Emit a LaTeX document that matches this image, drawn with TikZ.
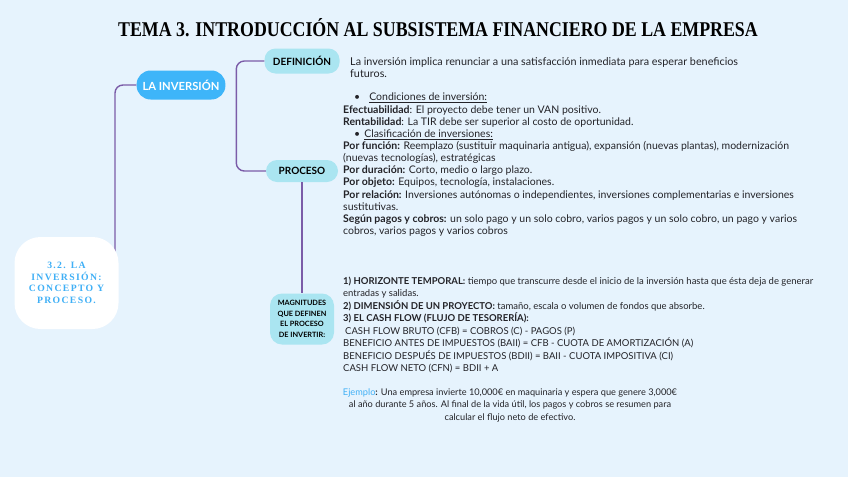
\documentclass[tikz,border=0pt]{standalone}
\usepackage{fontspec}
\setmainfont{Lato}
\newfontfamily\headserif{Liberation Serif}
\newfontfamily\spacedserif[LetterSpace=14]{Liberation Serif}
\usetikzlibrary{positioning,calc}
\definecolor{bgblue}{RGB}{230,243,253}
\definecolor{pillblue}{RGB}{62,181,249}
\definecolor{pillcyan}{RGB}{170,229,241}
\definecolor{linkpurple}{RGB}{123,92,168}
\definecolor{accentblue}{RGB}{64,176,246}
\definecolor{bodytext}{RGB}{35,35,40}

\begin{document}
\begin{tikzpicture}[x=1pt,y=-1pt,
  pill/.style={rounded corners=11pt,inner xsep=6pt,inner ysep=0pt,font=\fontsize{10}{12}\selectfont\bfseries},
  core/.style={fill=white,rounded corners=26pt,minimum width=104pt,minimum height=92pt,align=center,
    text=accentblue,font=\spacedserif\bfseries\fontsize{9.7}{11.5}\selectfont},
  magbox/.style={fill=pillcyan,rounded corners=12pt,minimum width=64pt,minimum height=51pt,inner sep=2pt,
    align=center,font=\fontsize{7.3}{10.5}\selectfont\bfseries},
  body/.style={inner sep=0pt,align=left,text=bodytext,font=\fontsize{10.5}{12.15}\selectfont},
  link/.style={draw=linkpurple,line width=1.4pt,rounded corners=8pt}]
\fill[bgblue] (0,0) rectangle (848,477);
\useasboundingbox (0,0) rectangle (848,477);

% title
\node (title) at (438,28) {\scalebox{0.85}[1]{\headserif\bfseries\fontsize{21}{21}\selectfont TEMA 3. INTRODUCCIÓN AL SUBSISTEMA FINANCIERO DE LA EMPRESA}};

% tree
\coordinate (corejoin) at (115,258);
\node[pill,fill=pillblue,text=white,minimum width=84pt,minimum height=29pt,rounded corners=14pt,
  font=\fontsize{11.2}{13}\selectfont\bfseries] (inv) at (181,85) {LA INVERSIÓN};
\node[pill,fill=pillcyan,minimum width=75pt,minimum height=25pt] (def) at (302,61) {DEFINICIÓN};
\node[pill,fill=pillcyan,minimum width=72pt,minimum height=22pt] (proc) at (302,171) {PROCESO};
\node[magbox] (mag) at (302,319) {MAGNITUDES\\QUE DEFINEN\\EL PROCESO\\DE INVERTIR:};
\draw[link] (corejoin) |- (inv.west);
\draw[link] (def.west) -- ++(-28,0) |- (proc.west);
\draw[link] (proc.south) -- (mag.north);
\node[core] (core) at (66.5,283) {3.2. LA\\INVERSIÓN:\\CONCEPTO Y\\PROCESO.};

% texts (base = last line)
\node[body,anchor=base west,font=\fontsize{10.8}{12}\selectfont] (deftext) at (350,77) {La inversión implica renunciar a una satisfacción inmediata para esperar beneficios\\futuros.};
\node[body,anchor=base west] (proctext) at (343,234.5) {%
\hspace{11pt}\textbullet\hspace{9pt}\underline{Condiciones de inversión:}\\
\textbf{Efectuabilidad}: El proyecto debe tener un VAN positivo.\\
\textbf{Rentabilidad}: La TIR debe ser superior al costo de oportunidad.\\
\hspace{11pt}\textbullet\hspace{4pt}\underline{Clasificación de inversiones:}\\
\textbf{Por función:} Reemplazo (sustituir maquinaria antigua), expansión (nuevas plantas), modernización\\
(nuevas tecnologías), estratégicas\\
\textbf{Por duración:} Corto, medio o largo plazo.\\
\textbf{Por objeto:} Equipos, tecnología, instalaciones.\\
\textbf{Por relación:} Inversiones autónomas o independientes, inversiones complementarias e inversiones\\
sustitutivas.\\
\textbf{Según pagos y cobros:} un solo pago y un solo cobro, varios pagos y un solo cobro, un pago y varios\\
cobros, varios pagos y varios cobros};
\node[body,anchor=base west,font=\fontsize{9.5}{12.5}\selectfont] (magtext) at (343,371.5) {%
\textbf{1) HORIZONTE TEMPORAL:} tiempo que transcurre desde el inicio de la inversión hasta que ésta deja de generar\\
entradas y salidas.\\
\textbf{2) DIMENSIÓN DE UN PROYECTO:} tamaño, escala o volumen de fondos que absorbe.\\
\textbf{3) EL CASH FLOW (FLUJO DE TESORERÍA):}\\
\hspace{2pt}CASH FLOW BRUTO (CFB) = COBROS (C) - PAGOS (P)\\
BENEFICIO ANTES DE IMPUESTOS (BAII) = CFB - CUOTA DE AMORTIZACIÓN (A)\\
BENEFICIO DESPUÉS DE IMPUESTOS (BDII) = BAII - CUOTA IMPOSITIVA (CI)\\
CASH FLOW NETO (CFN) = BDII + A};
\node[body,anchor=base,align=center,font=\fontsize{9.2}{12.5}\selectfont] (example) at (510,420) {%
{\color{accentblue}Ejemplo}\textbf{:} Una empresa invierte 10,000€ en maquinaria y espera que genere 3,000€\\
al año durante 5 años. Al final de la vida útil, los pagos y cobros se resumen para\\
calcular el flujo neto de efectivo.};
\end{tikzpicture}
\end{document}
